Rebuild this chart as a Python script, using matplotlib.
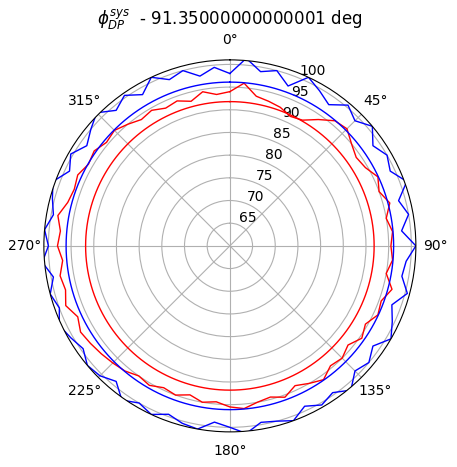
import numpy as np
import matplotlib
matplotlib.use("Agg")
import matplotlib.pyplot as plt

angles_deg = list(range(0, 360, 5))
red_vals = [94, 96, 93.5, 93, 92.5, 91.5, 92, 94, 96, 96.5, 95, 94, 94.5, 96, 95, 96.5,
            95, 96, 95.5, 96, 95, 97, 95.5, 96, 94.5, 95.5, 94, 95, 94.5, 96, 95, 94,
            95.5, 94.5, 95, 96, 95.5, 94.5, 95, 94, 95, 94.5, 95.5, 95, 96, 96.5, 97, 97.5,
            98, 97, 98.5, 97.5, 98, 97, 98, 97.5, 98.5, 97, 96.5, 97, 96, 96.5, 95.5, 96,
            95, 94, 94.5, 93.5, 94, 93, 94.5, 93.5]
blue_vals = [98, 101.5, 99, 100, 97.5, 101, 99.5, 98, 100.5, 99, 101, 98.5, 100, 99, 101.5, 98.5,
             100, 98, 101, 99, 98.5, 100.5, 98, 99.5, 101, 98.5, 100, 99, 101.5, 99.5, 100.5, 99,
             101, 100, 99.5, 101.5, 100, 99, 101, 100.5, 99.5, 101, 100, 101.5, 99, 100.5, 101, 99.5,
             100.5, 101.5, 100, 101, 99.5, 101.5, 100, 101, 99.5, 100.5, 101.5, 99, 100.5, 98.5, 100,
             101.5, 99, 100.5, 98.5, 101, 99, 100, 98, 99.5]
red_ref = 91.8
blue_ref = 96.1

th = np.deg2rad(angles_deg + [360])
red = red_vals + red_vals[:1]
blue = blue_vals + blue_vals[:1]

fig = plt.figure(figsize=(4.57, 4.67), dpi=100)
ax = fig.add_axes([0.096, 0.075, 0.814, 0.797], projection='polar')
ax.set_theta_zero_location('N')
ax.set_theta_direction(-1)
ax.plot(th, blue, color='blue', lw=1)
ax.plot(th, red, color='red', lw=1)
tt = np.linspace(0, 2*np.pi, 361)
ax.plot(tt, np.full_like(tt, blue_ref), color='blue', lw=1)
ax.plot(tt, np.full_like(tt, red_ref), color='red', lw=1)
ax.set_rlim(60, 101)
ax.set_rticks([65, 70, 75, 80, 85, 90, 95, 100])
ax.set_rlabel_position(22.5)
ax.set_title(r'$\phi_{DP}^{sys}$  - 91.35000000000001 deg', pad=6)
fig.savefig('out.png')
